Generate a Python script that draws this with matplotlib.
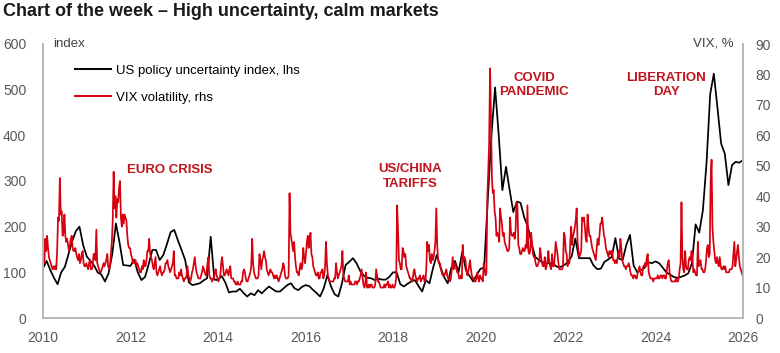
import numpy as np
import matplotlib.pyplot as plt

plt.rcParams['font.family'] = ['Liberation Sans', 'DejaVu Sans']

# US economic policy uncertainty index, monthly Jan 2010 .. Jan 2026 (lhs)
epu = [
    109, 125, 105, 88, 74, 100, 112, 140, 168, 190, 200, 160,   # 2010
    135, 125, 115, 100, 95, 80, 98, 140, 207, 165, 116, 115,    # 2011
    114, 128, 100, 83, 90, 118, 149, 149, 127, 138, 162, 188,   # 2012
    193, 170, 149, 127, 78, 72, 74, 76, 82, 87, 178, 84,        # 2013
    83, 92, 78, 56, 58, 58, 64, 55, 47, 54, 50, 61,             # 2014
    54, 62, 69, 63, 58, 58, 65, 72, 76, 65, 61, 68,             # 2015
    72, 70, 62, 55, 47, 65, 94, 69, 52, 47, 76, 116,            # 2016
    123, 131, 120, 103, 93, 88, 87, 83, 86, 84, 84, 90,         # 2017
    100, 100, 74, 69, 75, 80, 83, 70, 58, 83, 76, 110,          # 2018
    138, 112, 90, 76, 110, 125, 101, 145, 105, 92, 80, 95,      # 2019
    108, 110, 260, 400, 505, 400, 280, 331, 280, 232, 255, 252, # 2020
    220, 200, 163, 134, 127, 122, 120, 120, 118, 112, 112, 116, # 2021
    123, 135, 174, 131, 131, 131, 131, 115, 107, 108, 123, 128, # 2022
    134, 175, 130, 127, 160, 182, 115, 100, 105, 110, 122, 120, # 2023
    124, 120, 110, 100, 95, 90, 88, 90, 93, 98, 120, 205,       # 2024
    187, 236, 340, 490, 535, 460, 382, 360, 291, 335, 342, 340, # 2025
    346,                                                        # 2026
]

# VIX, four readings per month, 2010 .. 2025 (rhs)
vix = [
    # 2010
    21, 18, 26, 22, 27, 23, 20, 19, 18, 17, 16, 17, 16, 17, 16, 22,
    33, 32, 46, 34, 35, 27, 28, 34, 27, 25, 26, 24, 22, 24, 26, 27,
    23, 22, 22, 23, 21, 20, 19, 21, 18, 19, 21, 22, 18, 17, 17, 18,
    # 2011
    17, 16, 18, 19, 16, 16, 17, 21, 21, 19, 29, 18, 17, 16, 15, 15,
    16, 17, 18, 17, 18, 19, 21, 17, 16, 17, 21, 25, 32, 48, 36, 40,
    33, 39, 38, 43, 45, 33, 30, 34, 31, 34, 33, 32, 27, 24, 23, 23,
    # 2012
    21, 20, 18, 19, 18, 19, 17, 18, 17, 16, 15, 15, 17, 16, 19, 17,
    17, 19, 22, 22, 26, 21, 20, 19, 17, 16, 18, 20, 15, 14, 15, 16,
    17, 15, 14, 15, 15, 16, 18, 18, 19, 17, 16, 15, 16, 17, 18, 22,
    # 2013
    14, 14, 13, 13, 13, 15, 14, 16, 14, 13, 12, 13, 13, 14, 17, 14,
    13, 12, 13, 15, 16, 18, 20, 17, 15, 14, 13, 13, 13, 14, 15, 17,
    16, 15, 14, 15, 18, 20, 14, 13, 13, 12, 13, 13, 15, 16, 14, 13,
    # 2014
    12, 13, 14, 18, 20, 17, 14, 14, 15, 16, 15, 14, 16, 17, 13, 13,
    13, 12, 12, 11, 11, 12, 11, 11, 11, 12, 12, 15, 16, 15, 13, 12,
    12, 13, 14, 15, 17, 26, 18, 15, 14, 13, 13, 13, 14, 21, 19, 16,
    # 2015
    19, 20, 22, 20, 19, 16, 15, 14, 15, 16, 15, 15, 14, 13, 14, 13,
    14, 13, 12, 13, 14, 15, 16, 18, 17, 14, 13, 13, 13, 14, 41, 28,
    26, 24, 22, 25, 20, 17, 15, 15, 14, 16, 18, 16, 17, 23, 20, 18,
    # 2016
    21, 25, 27, 23, 26, 28, 21, 20, 17, 16, 15, 14, 14, 15, 13, 13,
    15, 15, 16, 13, 14, 17, 25, 18, 14, 13, 12, 12, 12, 12, 12, 13,
    13, 18, 15, 13, 14, 15, 16, 17, 22, 14, 13, 12, 12, 12, 12, 14,
    # 2017
    11, 12, 11, 11, 11, 11, 12, 12, 11, 12, 12, 13, 14, 16, 14, 11,
    10, 11, 15, 10, 10, 11, 10, 11, 11, 10, 10, 10, 11, 16, 14, 12,
    12, 11, 10, 10, 10, 10, 11, 10, 11, 11, 12, 10, 11, 10, 10, 11,
    # 2018
    10, 10, 11, 13, 37, 29, 19, 18, 16, 16, 23, 22, 20, 21, 17, 16,
    15, 14, 13, 13, 12, 12, 15, 16, 14, 13, 12, 13, 13, 14, 12, 13,
    13, 14, 12, 12, 16, 25, 22, 24, 19, 18, 21, 19, 20, 22, 25, 36,
    # 2019
    24, 19, 18, 18, 16, 15, 14, 14, 14, 15, 16, 14, 13, 13, 12, 13,
    16, 20, 16, 18, 18, 16, 15, 15, 13, 13, 14, 13, 24, 19, 20, 19,
    16, 14, 15, 17, 19, 16, 14, 13, 13, 12, 12, 13, 15, 13, 12, 14,
    # 2020
    13, 13, 12, 18, 16, 14, 15, 40, 48, 58, 82, 66, 46, 41, 42, 35,
    33, 27, 28, 27, 25, 36, 33, 31, 27, 28, 25, 24, 23, 22, 22, 23,
    33, 28, 27, 27, 28, 26, 29, 38, 37, 24, 23, 21, 21, 22, 23, 22,
    # 2021
    22, 24, 23, 37, 22, 21, 22, 28, 25, 21, 20, 20, 18, 17, 17, 18,
    19, 23, 20, 18, 17, 17, 20, 16, 17, 19, 22, 18, 17, 16, 21, 17,
    17, 20, 25, 23, 21, 18, 16, 16, 16, 16, 17, 28, 27, 22, 21, 17,
    # 2022
    19, 18, 25, 30, 24, 27, 28, 30, 32, 36, 25, 22, 20, 21, 22, 33,
    32, 33, 30, 26, 25, 34, 30, 27, 27, 25, 23, 22, 21, 20, 19, 23,
    26, 24, 27, 31, 31, 33, 30, 27, 26, 23, 22, 21, 20, 22, 21, 22,
    # 2023
    22, 19, 19, 18, 19, 18, 20, 22, 20, 26, 23, 19, 18, 17, 17, 16,
    17, 17, 18, 17, 15, 14, 14, 13, 14, 14, 13, 13, 15, 16, 17, 15,
    14, 14, 17, 17, 18, 17, 20, 21, 15, 14, 13, 13, 13, 12, 13, 13,
    # 2024
    13, 13, 14, 13, 13, 14, 14, 13, 14, 14, 13, 13, 16, 18, 19, 15,
    13, 12, 12, 12, 12, 12, 13, 12, 12, 13, 16, 18, 38, 20, 16, 15,
    22, 17, 16, 16, 19, 20, 19, 22, 20, 15, 16, 15, 14, 14, 25, 17,
    # 2025
    18, 19, 16, 16, 15, 15, 16, 19, 23, 24, 20, 21, 45, 52, 30, 25,
    22, 19, 18, 20, 18, 17, 20, 17, 16, 16, 17, 16, 17, 15, 15, 15,
    15, 16, 16, 16, 17, 21, 25, 17, 19, 22, 24, 20, 17, 16, 15, 14,
]

xticks = list(range(2010, 2027, 2))
events = ["EURO CRISIS", "US/CHINA\nTARIFFS", "COVID\nPANDEMIC", "LIBERATION\nDAY"]
event_x = [2012.9, 2018.4, 2021.22, 2024.25]
event_y = [324, 310, 510, 510]

red = '#d7000f'
txt_red = '#c0141e'
grey = '#595959'
spine_c = '#b8b8b8'

x_epu = 2010 + np.arange(len(epu)) / 12
x_vix = 2010 + (np.arange(len(vix)) + 0.5) / 48

fig = plt.figure(figsize=(7.8, 3.53), dpi=100)
ax = fig.add_axes([43 / 780, 35 / 353, 700 / 780, 274 / 353])
ax2 = ax.twinx()

l1, = ax.plot(x_epu, epu, color='black', lw=1.4, label='US policy uncertainty index, lhs')
l2, = ax2.plot(x_vix, vix, color=red, lw=1.4, label='VIX volatility, rhs')

ax.set_xlim(2010, 2026)
ax.set_ylim(0, 600)
ax2.set_ylim(0, 90)
ax.set_xticks(xticks)
ax.set_yticks(range(0, 601, 100))
ax2.set_yticks(range(0, 91, 10))

for a in (ax, ax2):
    a.spines['top'].set_visible(False)
    for s in ('left', 'right', 'bottom'):
        a.spines[s].set_color(spine_c)
        a.spines[s].set_linewidth(1.2)
ax.tick_params(axis='x', length=0, pad=9, labelsize=10, labelcolor=grey)
ax.tick_params(axis='y', length=0, pad=12, labelsize=10, labelcolor=grey)
ax2.tick_params(axis='y', length=0, pad=9, labelsize=10, labelcolor=grey)

ax.text(0.014, 1.0, 'index', transform=ax.transAxes, fontsize=9.5, color='#404040',
        va='center', ha='left')
ax2.text(0.986, 1.0, 'VIX, %', transform=ax.transAxes, fontsize=9.5, color='#404040',
         va='center', ha='right')

for t, x, y in zip(events, event_x, event_y):
    ax2.text(x, y, t, transform=ax.transData, color=txt_red, fontsize=9.5,
             fontweight='bold', ha='center', va='center', linespacing=1.25)

leg = ax2.legend(handles=[l1, l2], loc='upper left', bbox_to_anchor=(0.046, 0.925),
                 frameon=False, fontsize=9.5, handlelength=2.7, handletextpad=0.4,
                 labelspacing=1.1, borderpad=0, borderaxespad=0)

# thinner data lines once the legend handles are made
l1.set_linewidth(1.25)
l2.set_linewidth(1.25)

fig.text(0.004, 1 - 12 / 353, 'Chart of the week \u2013 High uncertainty, calm markets',
         fontsize=13, fontweight='bold', va='center', ha='left', color='#1a1a1a')

fig.savefig('out.png', dpi=100)
